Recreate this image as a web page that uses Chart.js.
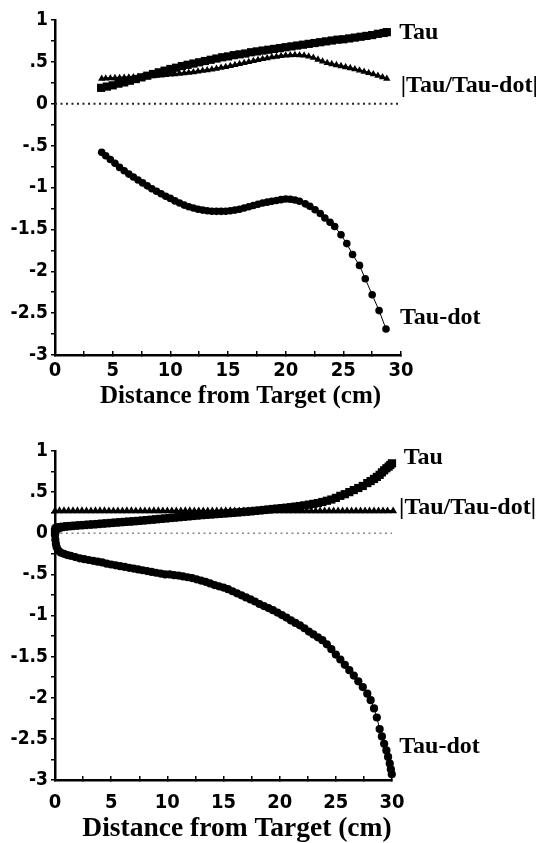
<!DOCTYPE html>
<html>
<head>
<meta charset="utf-8">
<script src="https://cdn.jsdelivr.net/npm/chart.js@4"></script>
<style>
  html, body { margin: 0; padding: 0; background: #fff; }
  #wrap { position: relative; width: 552px; height: 843px; overflow: hidden; background: #fff; }
  #wrap canvas { position: absolute; left: 0; }
</style>
</head>
<body>
<div id="wrap">
  <canvas id="upper" width="552" height="420" style="top:0px"></canvas>
  <canvas id="lower" width="552" height="423" style="top:420px"></canvas>
</div>
<script>
// Series names and axis text
const seriesNames = ['Tau', '|Tau/Tau-dot|', 'Tau-dot'];
const axisCaption = 'Distance from Target (cm)';
const yTickValues = [1, 0.5, 0, -0.5, -1, -1.5, -2, -2.5, -3];
const xTickValues = [0, 5, 10, 15, 20, 25, 30];
const zeroLine = [[0, 0], [30, 0]];

// Upper panel: [distance (cm), value]
const upperTau = [
  [4.0,0.19],[4.5,0.205],[5.0,0.22],[5.5,0.24],[6.0,0.255],[6.5,0.275],[7.0,0.295],[7.5,0.315],
  [8.0,0.335],[8.5,0.355],[9.0,0.375],[9.5,0.395],[10.0,0.415],[10.5,0.43],[11.0,0.45],[11.5,0.465],
  [12.0,0.48],[12.5,0.495],[13.0,0.51],[13.5,0.525],[14.0,0.54],[14.5,0.555],[15.0,0.565],[15.5,0.58],
  [16.0,0.59],[16.5,0.60],[17.0,0.615],[17.5,0.625],[18.0,0.635],[18.5,0.645],[19.0,0.655],[19.5,0.665],
  [20.0,0.675],[20.5,0.685],[21.0,0.695],[21.5,0.705],[22.0,0.715],[22.5,0.725],[23.0,0.735],[23.5,0.745],
  [24.0,0.755],[24.5,0.765],[25.0,0.77],[25.5,0.78],[26.0,0.79],[26.5,0.80],[27.0,0.81],[27.5,0.82],
  [28.0,0.835],[28.5,0.845],[28.77,0.855]
];
const upperRatio = [
  [4.05,0.30],[4.4,0.302],[4.8,0.305],[5.2,0.307],[5.6,0.309],[6.0,0.312],[6.4,0.314],[6.8,0.317],
  [7.2,0.32],[7.6,0.323],[8.0,0.327],[8.4,0.331],[8.8,0.335],[9.2,0.339],[9.6,0.344],[10.0,0.349],
  [10.4,0.354],[10.8,0.36],[11.2,0.366],[11.6,0.372],[12.0,0.378],[12.4,0.386],[12.8,0.394],[13.2,0.402],
  [13.6,0.41],[14.0,0.42],[14.4,0.43],[14.8,0.44],[15.2,0.452],[15.6,0.464],[16.0,0.476],[16.4,0.488],
  [16.8,0.50],[17.2,0.512],[17.6,0.524],[18.0,0.535],[18.4,0.545],[18.8,0.555],[19.2,0.563],[19.6,0.57],
  [20.0,0.576],[20.4,0.58],[20.8,0.582],[21.2,0.581],[21.6,0.576],[22.0,0.565],[22.4,0.55],[22.8,0.528],
  [23.2,0.506],[23.6,0.488],[24.0,0.474],[24.4,0.462],[24.8,0.45],[25.2,0.438],[25.6,0.426],[26.0,0.412],
  [26.4,0.398],[26.8,0.384],[27.2,0.368],[27.6,0.352],[28.0,0.336],[28.4,0.318],[28.77,0.30]
];
const upperTauDot = [
  [4.05,-0.58],[4.4,-0.62],[4.8,-0.665],[5.2,-0.71],[5.6,-0.76],[6.0,-0.80],[6.4,-0.84],[6.8,-0.875],
  [7.2,-0.91],[7.6,-0.945],[8.0,-0.98],[8.4,-1.015],[8.8,-1.045],[9.2,-1.075],[9.6,-1.105],[10.0,-1.13],
  [10.4,-1.16],[10.8,-1.185],[11.2,-1.21],[11.6,-1.23],[12.0,-1.245],[12.4,-1.26],[12.8,-1.27],[13.2,-1.278],
  [13.6,-1.283],[14.0,-1.285],[14.4,-1.285],[14.8,-1.283],[15.2,-1.278],[15.6,-1.27],[16.0,-1.26],[16.4,-1.245],
  [16.8,-1.23],[17.2,-1.215],[17.6,-1.2],[18.0,-1.185],[18.4,-1.175],[18.8,-1.165],[19.2,-1.155],[19.6,-1.145],
  [20.0,-1.138],[20.4,-1.14],[20.8,-1.15],[21.2,-1.165],[21.7,-1.195],[22.1,-1.225],[22.55,-1.265],[23.0,-1.31],
  [23.4,-1.365],[23.85,-1.415],[24.25,-1.465],[24.8,-1.565],[25.3,-1.67],[25.8,-1.80],[26.4,-1.93],[26.9,-2.09],
  [27.5,-2.28],[28.1,-2.47],[28.7,-2.69]
];

// Lower panel: [distance (cm), value]
const lowerTau = [
  [0.0,0.02],[0.05,0.045],[0.15,0.06],[0.3,0.068],[0.5,0.075],[0.8,0.08],[1.1,0.085],[1.4,0.088],
  [1.8,0.092],[2.2,0.097],[2.6,0.10],[3.0,0.105],[3.4,0.108],[3.8,0.112],[4.2,0.117],[4.6,0.121],
  [5.0,0.125],[5.4,0.13],[5.8,0.134],[6.2,0.138],[6.6,0.142],[7.0,0.146],[7.4,0.15],[7.8,0.155],
  [8.2,0.16],[8.6,0.165],[9.0,0.17],[9.4,0.175],[9.8,0.18],[10.2,0.185],[10.6,0.19],[11.0,0.195],
  [11.4,0.20],[11.8,0.205],[12.2,0.21],[12.6,0.215],[13.0,0.22],[13.4,0.224],[13.8,0.228],[14.2,0.232],
  [14.6,0.236],[15.0,0.24],[15.4,0.244],[15.8,0.248],[16.2,0.253],[16.6,0.257],[17.0,0.262],[17.4,0.266],
  [17.8,0.272],[18.2,0.277],[18.6,0.283],[19.0,0.289],[19.4,0.295],[19.8,0.30],[20.2,0.306],[20.6,0.311],
  [21.0,0.317],[21.4,0.324],[21.8,0.331],[22.2,0.339],[22.6,0.348],[23.0,0.357],[23.4,0.367],[23.8,0.38],
  [24.2,0.395],[24.6,0.41],[25.0,0.43],[25.4,0.455],[25.8,0.475],[26.2,0.50],[26.6,0.525],[27.0,0.55],
  [27.4,0.575],[27.8,0.61],[28.1,0.635],[28.4,0.66],[28.65,0.685],[28.9,0.71],[29.1,0.74],[29.3,0.765],
  [29.5,0.79],[29.7,0.81],[29.85,0.83],[30.0,0.85],[30.07,0.86]
];
const lowerRatio = [
  [0.0,0.27],[0.4,0.271],[0.8,0.272],[1.2,0.272],[1.6,0.271],[2.0,0.271],[2.4,0.271],[2.8,0.27],
  [3.2,0.27],[3.6,0.271],[4.0,0.271],[4.4,0.271],[4.8,0.27],[5.2,0.27],[5.6,0.27],[6.0,0.27],
  [6.4,0.271],[6.8,0.271],[7.2,0.27],[7.6,0.27],[8.0,0.27],[8.4,0.27],[8.8,0.271],[9.2,0.271],
  [9.6,0.27],[10.0,0.27],[10.4,0.27],[10.8,0.27],[11.2,0.27],[11.6,0.271],[12.0,0.271],[12.4,0.27],
  [12.8,0.27],[13.2,0.27],[13.6,0.27],[14.0,0.27],[14.4,0.27],[14.8,0.27],[15.2,0.271],[15.6,0.271],
  [16.0,0.27],[16.4,0.27],[16.8,0.27],[17.2,0.27],[17.6,0.27],[18.0,0.27],[18.4,0.27],[18.8,0.27],
  [19.2,0.27],[19.6,0.27],[20.0,0.27],[20.4,0.27],[20.8,0.27],[21.2,0.27],[21.6,0.27],[22.0,0.27],
  [22.4,0.27],[22.8,0.27],[23.2,0.27],[23.6,0.27],[24.0,0.27],[24.4,0.27],[24.8,0.27],[25.2,0.27],
  [25.6,0.27],[26.0,0.27],[26.4,0.27],[26.8,0.27],[27.2,0.27],[27.6,0.27],[28.0,0.27],[28.4,0.27],
  [28.8,0.27],[29.2,0.27],[29.6,0.27],[30.1,0.27]
];
const lowerTauDot = [
  [0.0,-0.02],[0.03,-0.08],[0.08,-0.13],[0.15,-0.17],[0.3,-0.21],[0.5,-0.235],[0.8,-0.25],[1.1,-0.265],
  [1.4,-0.275],[1.8,-0.29],[2.2,-0.305],[2.6,-0.315],[3.0,-0.325],[3.4,-0.335],[3.8,-0.345],[4.2,-0.355],
  [4.6,-0.37],[5.0,-0.38],[5.4,-0.39],[5.8,-0.40],[6.2,-0.41],[6.6,-0.42],[7.0,-0.43],[7.4,-0.44],
  [7.8,-0.45],[8.2,-0.46],[8.6,-0.47],[9.0,-0.48],[9.4,-0.49],[9.8,-0.50],[10.2,-0.50],[10.6,-0.51],
  [11.0,-0.515],[11.4,-0.525],[11.8,-0.535],[12.2,-0.545],[12.6,-0.56],[13.0,-0.575],[13.4,-0.59],[13.8,-0.61],
  [14.2,-0.63],[14.6,-0.645],[15.0,-0.66],[15.4,-0.68],[15.8,-0.705],[16.2,-0.73],[16.6,-0.755],[17.0,-0.78],
  [17.4,-0.805],[17.8,-0.83],[18.2,-0.86],[18.6,-0.885],[19.0,-0.91],[19.4,-0.935],[19.8,-0.965],[20.2,-0.995],
  [20.6,-1.025],[21.0,-1.06],[21.4,-1.09],[21.8,-1.12],[22.2,-1.155],[22.6,-1.195],[23.0,-1.23],[23.4,-1.265],
  [23.8,-1.30],[24.2,-1.35],[24.6,-1.41],[25.0,-1.475],[25.4,-1.535],[25.8,-1.6],[26.2,-1.665],[26.6,-1.73],
  [27.0,-1.80],[27.4,-1.87],[27.8,-1.95],[28.1,-2.03],[28.4,-2.13],[28.65,-2.24],[28.9,-2.38],[29.1,-2.47],
  [29.3,-2.56],[29.5,-2.64],[29.65,-2.72],[29.8,-2.80],[29.9,-2.87],[29.98,-2.93]
];

const toPoints = arr => arr.map(([x, y]) => ({ x, y }));
const tickFamily = '"Liberation Sans Narrow", "Arial Narrow", "DejaVu Sans Condensed", sans-serif';
const serifFamily = '"Liberation Serif", "Times New Roman", serif';

const fmtY = v => (v === 0 ? '0' : String(v).replace(/^(-?)0\./, '$1.'));

// Draws the series names beside the last point of each curve, and the axis caption
const annotate = {
  id: 'annotate',
  afterDatasetsDraw(chart) {
    const cfg = chart.options.plugins.annotate;
    if (!cfg) return;
    const ctx = chart.ctx;
    ctx.save();
    ctx.fillStyle = '#000';
    ctx.textAlign = 'left';
    ctx.textBaseline = 'middle';
    ctx.font = `bold ${cfg.tagSize}px ${serifFamily}`;
    cfg.tags.forEach(t => {
      const meta = chart.getDatasetMeta(t.dataset);
      const last = meta.data[meta.data.length - 1];
      ctx.fillText(chart.data.datasets[t.dataset].label, last.x + t.dx, last.y + t.dy);
    });
    ctx.textAlign = 'center';
    ctx.font = `bold ${cfg.captionSize}px ${serifFamily}`;
    ctx.fillText(axisCaption, cfg.captionX, cfg.captionY);
    ctx.restore();
  }
};

function seriesSet(tau, ratio, tauDot, s) {
  const base = { showLine: true, borderColor: '#000', borderWidth: 1, pointBackgroundColor: '#000',
                 pointBorderColor: '#000', pointBorderWidth: 0, clip: false, order: 1 };
  return [
    Object.assign({}, base, { label: seriesNames[0], data: toPoints(tau), pointStyle: 'rect', pointRadius: s.tauR }),
    Object.assign({}, base, { label: seriesNames[1], data: toPoints(ratio), pointStyle: 'triangle', pointRadius: s.ratioR, borderWidth: 2 }),
    Object.assign({}, base, { label: seriesNames[2], data: toPoints(tauDot), pointStyle: 'circle', pointRadius: s.dotR }),
    { label: 'zero', data: toPoints(zeroLine), showLine: true, borderColor: s.zeroColor, borderWidth: s.zeroWidth,
      borderDash: [2, 3.5], pointRadius: 0, order: 5 }
  ];
}

function makePanel(canvasId, datasets, p) {
  return new Chart(document.getElementById(canvasId), {
    type: 'scatter',
    data: { datasets },
    plugins: [annotate],
    options: {
      responsive: false,
      animation: false,
      devicePixelRatio: 1,
      layout: { padding: { left: 0, right: p.padRight, top: p.padTop, bottom: 0 } },
      plugins: { legend: { display: false }, tooltip: { enabled: false }, annotate: p.annotate },
      scales: {
        x: {
          type: 'linear', min: 0, max: 30,
          afterFit: s => { s.height = p.xAxisHeight; },
          border: { display: true, color: '#000', width: 2.5 },
          grid: { drawOnChartArea: false, drawTicks: true, tickLength: -4, color: '#000', lineWidth: 1.5 },
          ticks: {
            stepSize: 2.5, autoSkip: false, maxRotation: 0, color: '#000', padding: p.xPad,
            font: { family: tickFamily, size: p.xTickSize, weight: 'bold' },
            callback: v => (xTickValues.includes(v) ? String(v) : '')
          }
        },
        y: {
          type: 'linear', min: -3, max: 1,
          afterFit: s => { s.width = 55; },
          border: { display: true, color: '#000', width: 2.5 },
          grid: { drawOnChartArea: false, drawTicks: true, tickLength: 4, color: '#000', lineWidth: 1.5 },
          ticks: {
            stepSize: 0.25, autoSkip: false, color: '#000', padding: 3,
            font: { family: tickFamily, size: p.yTickSize, weight: 'bold' },
            callback: v => (yTickValues.includes(v) ? fmtY(v) : '')
          }
        }
      }
    }
  });
}

makePanel('upper',
  seriesSet(upperTau, upperRatio, upperTauDot, { tauR: 5.8, ratioR: 4.2, dotR: 3.8, zeroColor: '#222', zeroWidth: 2 }),
  {
    padRight: 151, padTop: 20, xAxisHeight: 65, xPad: 8, xTickSize: 20, yTickSize: 19,
    annotate: {
      tagSize: 24, captionSize: 25, captionX: 240.5, captionY: 396.5,
      tags: [ { dataset: 0, dx: 12.5, dy: 0.5 }, { dataset: 1, dx: 14, dy: 7 }, { dataset: 2, dx: 14, dy: -11.5 } ]
    }
  });

makePanel('lower',
  seriesSet(lowerTau, lowerRatio, lowerTauDot, { tauR: 5.8, ratioR: 4.6, dotR: 4.1, zeroColor: '#888', zeroWidth: 1.6 }),
  {
    padRight: 160, padTop: 31, xAxisHeight: 63, xPad: 15, xTickSize: 20, yTickSize: 19,
    annotate: {
      tagSize: 24, captionSize: 27.5, captionX: 237, captionY: 409,
      tags: [ { dataset: 0, dx: 11, dy: -5 }, { dataset: 1, dx: 6, dy: -3.5 }, { dataset: 2, dx: 7.5, dy: -27.5 } ]
    }
  });
</script>
</body>
</html>
